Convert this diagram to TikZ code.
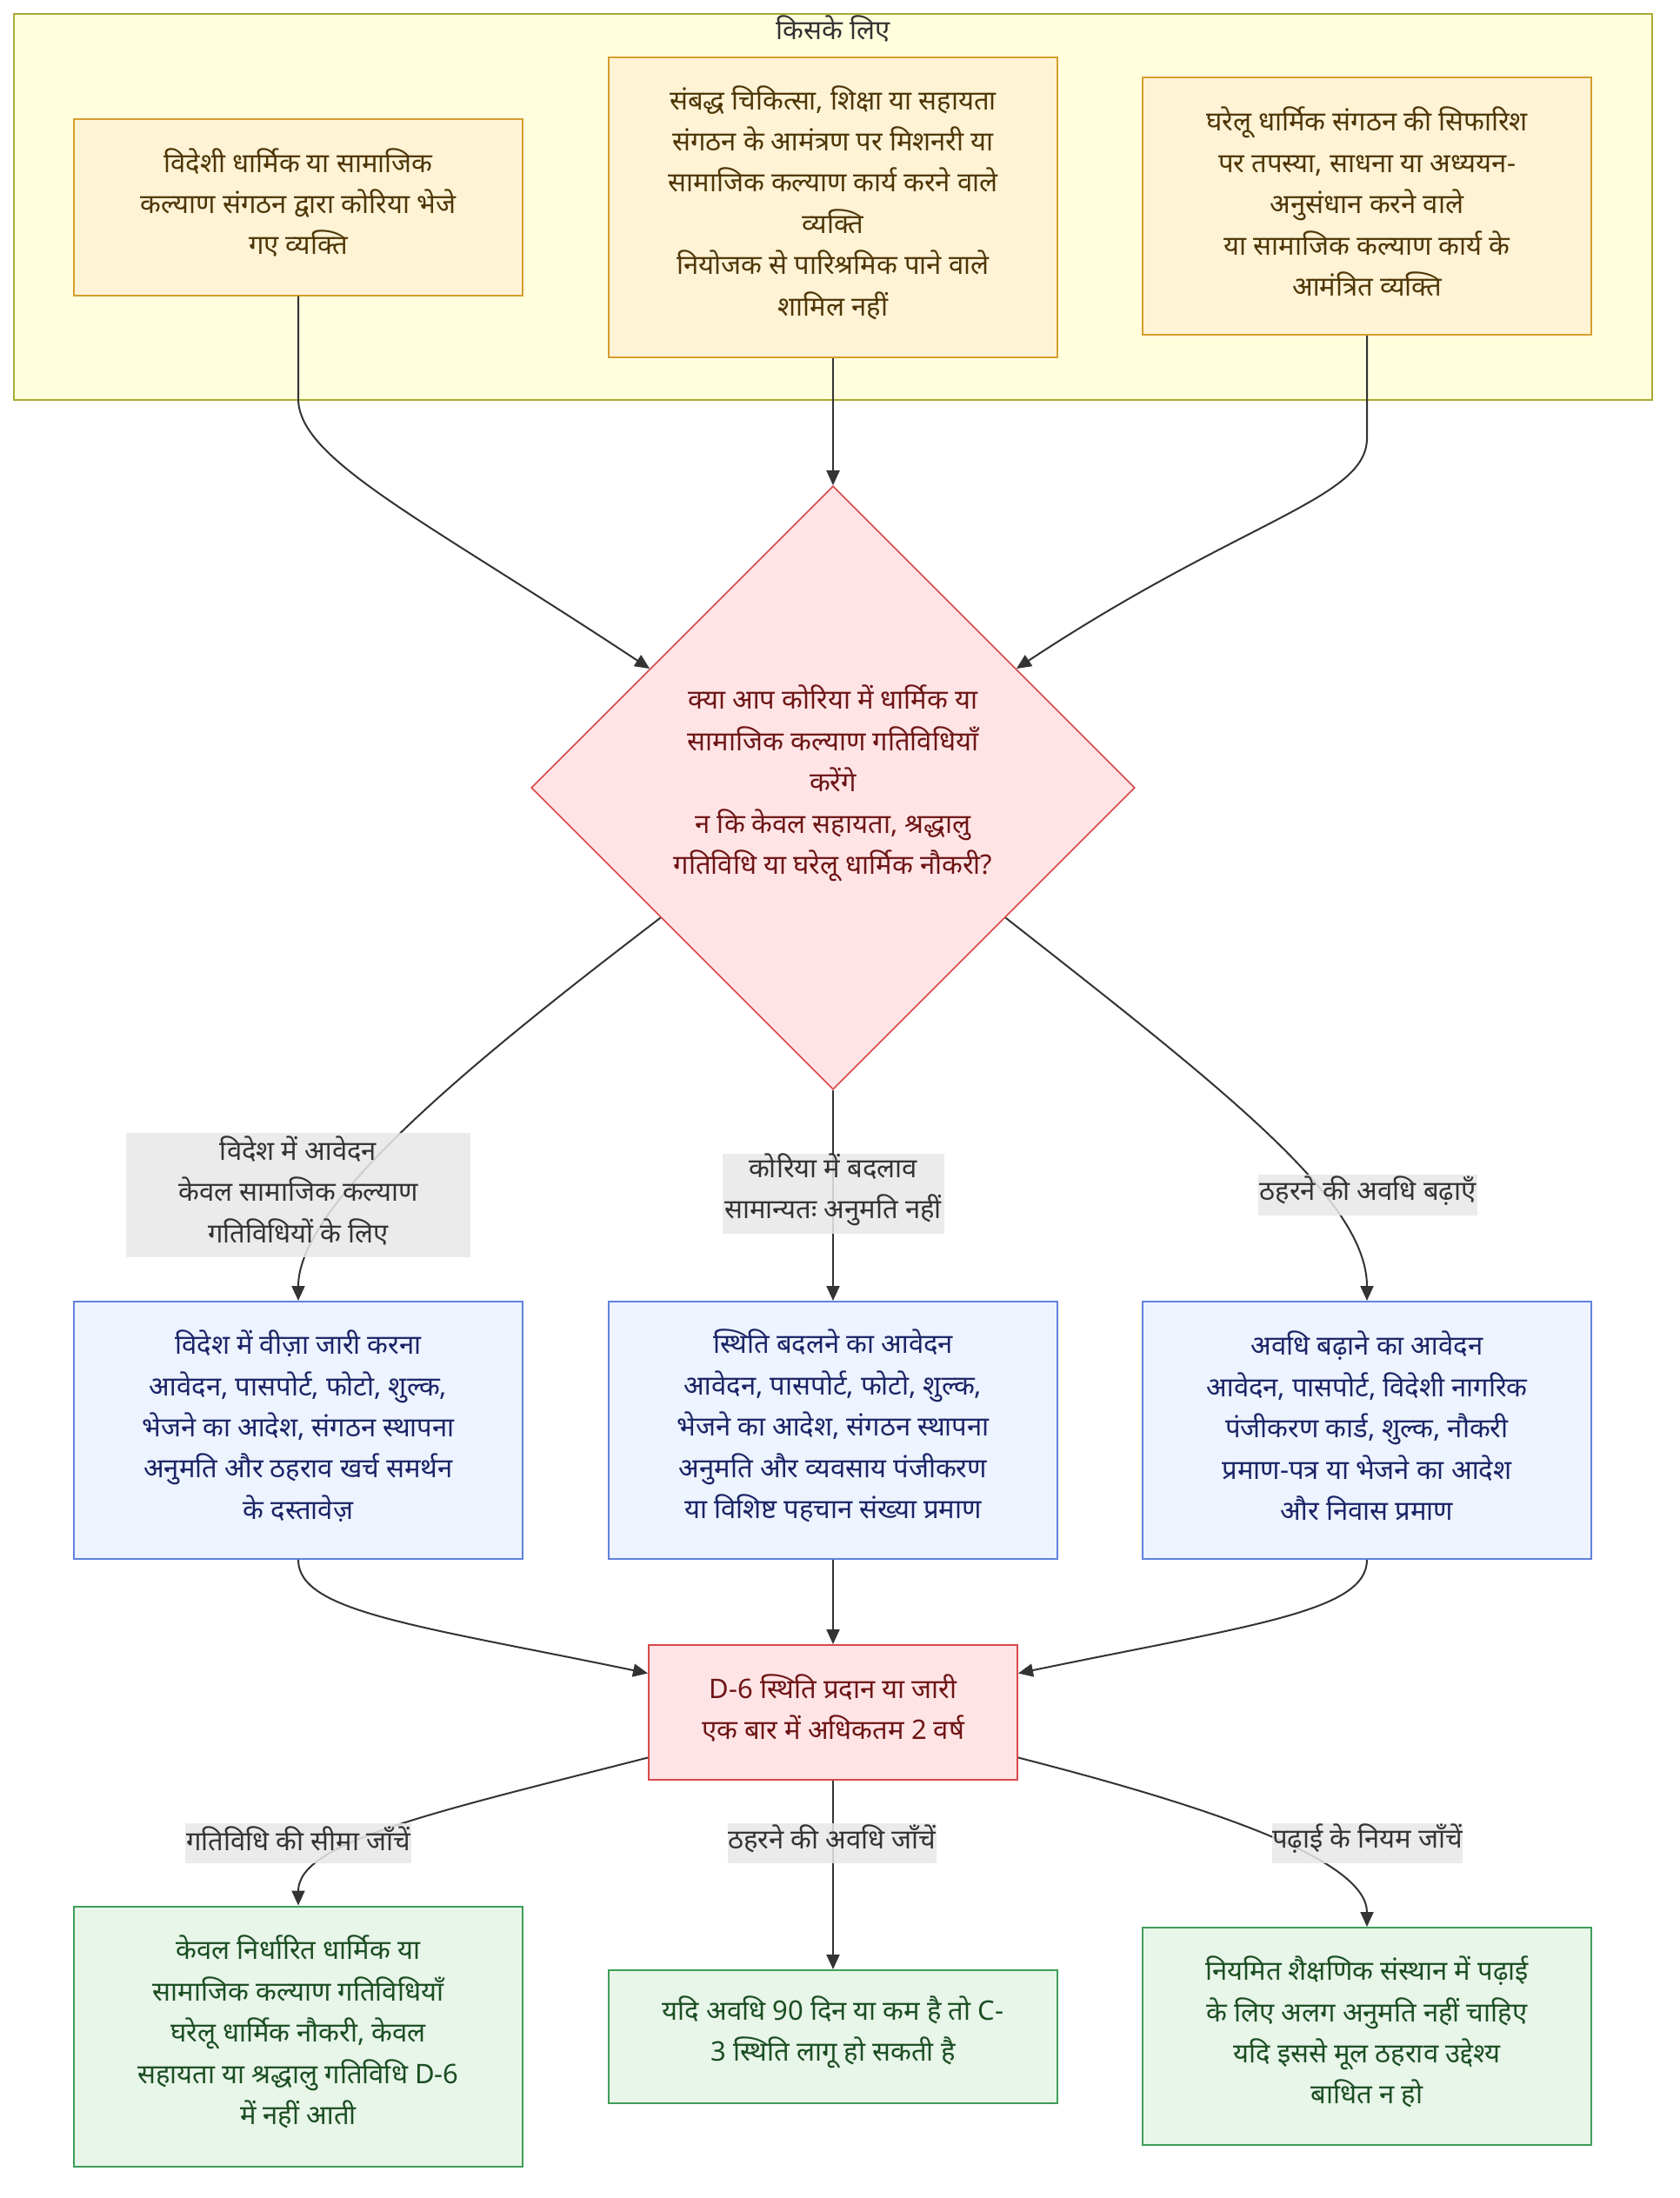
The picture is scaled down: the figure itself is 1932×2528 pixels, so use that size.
\documentclass[tikz,border=0pt]{standalone}
\usepackage{fontspec}
\setmainfont{Noto Sans}[Script=Devanagari]
\usetikzlibrary{shapes.geometric,arrows.meta,calc}
\definecolor{clfill}{HTML}{FFFFDE}
\definecolor{cldraw}{HTML}{AAAA33}
\definecolor{afill}{HTML}{FFF3D6}
\definecolor{adraw}{HTML}{D69E2E}
\definecolor{atext}{HTML}{4E3606}
\definecolor{rfill}{HTML}{FFE4E6}
\definecolor{rdraw}{HTML}{D94848}
\definecolor{rtext}{HTML}{6E1515}
\definecolor{bfill}{HTML}{EDF3FF}
\definecolor{bdraw}{HTML}{5F82DC}
\definecolor{btext}{HTML}{1A2466}
\definecolor{gfill}{HTML}{E8F5E9}
\definecolor{gdraw}{HTML}{3E9E58}
\definecolor{gtext}{HTML}{1B4E22}
\definecolor{lblfill}{HTML}{E8E8E8}
\definecolor{edgec}{HTML}{333333}
\tikzset{
  txt/.style={align=center, inner sep=0pt, font=\fontsize{31}{47.4}\selectfont},
  box/.style={draw, line width=2pt, inner sep=0pt},
  abox/.style={box, fill=afill, draw=adraw},
  bbox/.style={box, fill=bfill, draw=bdraw},
  gbox/.style={box, fill=gfill, draw=gdraw},
  rbox/.style={box, fill=rfill, draw=rdraw},
  atxt/.style={txt, text=atext},
  btxt/.style={txt, text=btext},
  gtxt/.style={txt, text=gtext},
  rtxt/.style={txt, text=rtext},
  ltxt/.style={txt, text=edgec},
  lbl/.style={inner sep=0pt, fill=lblfill, fill opacity=0.85},
  edge/.style={draw=edgec, line width=2pt, -{Triangle[length=17pt,width=15pt]}},
}
\begin{document}
\begin{tikzpicture}[x=1pt,y=1pt]
\useasboundingbox (0,0) rectangle (1932,-2528);
\fill[white] (0,0) rectangle (1932,-2528);
% cluster
\node[draw=cldraw, fill=clfill, line width=2pt, minimum width=1884pt, minimum height=444pt, inner sep=0pt] (cl) at (958,-238) {};
\node[ltxt] (cltitle) at (958,-33) {किसके लिए};
% top boxes
\node[abox, minimum width=516pt, minimum height=203pt] (a1) at (343,-238) {};
\node[atxt] (a1t) at ([yshift=5pt]a1.center) {विदेशी धार्मिक या सामाजिक\\कल्याण संगठन द्वारा कोरिया भेजे\\गए व्यक्ति};
\node[abox, minimum width=516pt, minimum height=345pt] (a2) at (958,-238) {};
\node[atxt] (a2t) at ([yshift=5pt]a2.center) {संबद्ध चिकित्सा, शिक्षा या सहायता\\संगठन के आमंत्रण पर मिशनरी या\\सामाजिक कल्याण कार्य करने वाले\\व्यक्ति\\नियोजक से पारिश्रमिक पाने वाले\\शामिल नहीं};
\node[abox, minimum width=516pt, minimum height=296pt] (a3) at (1572,-237) {};
\node[atxt] (a3t) at ([yshift=5pt]a3.center) {घरेलू धार्मिक संगठन की सिफारिश\\पर तपस्या, साधना या अध्ययन-\\अनुसंधान करने वाले\\या सामाजिक कल्याण कार्य के\\आमंत्रित व्यक्ति};
% decision
\node[rbox, diamond, aspect=1, line width=1.6pt, minimum width=694pt, minimum height=694pt] (dia) at (958,-906) {};
\node[rtxt] (diat) at ([yshift=5pt]dia.center) {क्या आप कोरिया में धार्मिक या\\सामाजिक कल्याण गतिविधियाँ\\करेंगे\\न कि केवल सहायता, श्रद्धालु\\गतिविधि या घरेलू धार्मिक नौकरी?};
% application boxes
\node[bbox, minimum width=516pt, minimum height=296pt] (b1) at (343,-1645) {};
\node[btxt] (b1t) at ([yshift=5pt]b1.center) {विदेश में वीज़ा जारी करना\\आवेदन, पासपोर्ट, फोटो, शुल्क,\\भेजने का आदेश, संगठन स्थापना\\अनुमति और ठहराव खर्च समर्थन\\के दस्तावेज़};
\node[bbox, minimum width=516pt, minimum height=296pt] (b2) at (958,-1645) {};
\node[btxt] (b2t) at ([yshift=5pt]b2.center) {स्थिति बदलने का आवेदन\\आवेदन, पासपोर्ट, फोटो, शुल्क,\\भेजने का आदेश, संगठन स्थापना\\अनुमति और व्यवसाय पंजीकरण\\या विशिष्ट पहचान संख्या प्रमाण};
\node[bbox, minimum width=516pt, minimum height=296pt] (b3) at (1572,-1645) {};
\node[btxt] (b3t) at ([yshift=5pt]b3.center) {अवधि बढ़ाने का आवेदन\\आवेदन, पासपोर्ट, विदेशी नागरिक\\पंजीकरण कार्ड, शुल्क, नौकरी\\प्रमाण-पत्र या भेजने का आदेश\\और निवास प्रमाण};
% grant
\node[rbox, minimum width=424pt, minimum height=155pt] (d6) at (958,-1969.5) {};
\node[rtxt] (d6t) at ([yshift=5pt]d6.center) {D-6 स्थिति प्रदान या जारी\\एक बार में अधिकतम 2 वर्ष};
% checks
\node[gbox, minimum width=516pt, minimum height=299pt] (c1) at (343,-2342) {};
\node[gtxt] (c1t) at ([yshift=5pt]c1.center) {केवल निर्धारित धार्मिक या\\सामाजिक कल्याण गतिविधियाँ\\घरेलू धार्मिक नौकरी, केवल\\सहायता या श्रद्धालु गतिविधि D-6\\में नहीं आती};
\node[gbox, minimum width=516pt, minimum height=153pt] (c2) at (958,-2342.5) {};
\node[gtxt] (c2t) at ([yshift=5pt]c2.center) {यदि अवधि 90 दिन या कम है तो C-\\3 स्थिति लागू हो सकती है};
\node[gbox, minimum width=516pt, minimum height=250pt] (c3) at (1572,-2342) {};
\node[gtxt] (c3t) at ([yshift=5pt]c3.center) {नियमित शैक्षणिक संस्थान में पढ़ाई\\के लिए अलग अनुमति नहीं चाहिए\\यदि इससे मूल ठहराव उद्देश्य\\बाधित न हो};
% edges
\draw[edge] (a1.south) -- ++(0,-118) .. controls +(0,-70) and +(-260,172) .. (dia.147);
\draw[edge] (a2.south) -- (dia.north);
\draw[edge] (a3.south) -- ++(0,-118) .. controls +(0,-70) and +(260,172) .. (dia.33);
\draw[edge] (dia.217) .. controls +(-200,-153) and +(0,115) .. (b1.north);
\draw[edge] (dia.south) -- (b2.north);
\draw[edge] (dia.323) .. controls +(255,-200) and +(0,115) .. (b3.north);
\draw[edge] (b1.south) .. controls +(0,-60) and +(-265,55) .. ([yshift=45pt]d6.west);
\draw[edge] (b2.south) -- (d6.north);
\draw[edge] (b3.south) .. controls +(0,-60) and +(265,55) .. ([yshift=45pt]d6.east);
\draw[edge] ([yshift=-52pt]d6.west) .. controls +(-246,-63) and +(0,73) .. (c1.north);
\draw[edge] (d6.south) -- (c2.north);
\draw[edge] ([yshift=-52pt]d6.east) .. controls +(246,-63) and +(0,73) .. (c3.north);
% edge labels
\node[lbl, minimum width=396pt, minimum height=143pt] (l1) at (343,-1374.5) {};
\node[ltxt] (l1t) at ([yshift=5pt]l1.center) {विदेश में आवेदन\\केवल सामाजिक कल्याण\\गतिविधियों के लिए};
\node[lbl, minimum width=255pt, minimum height=92pt] (l2) at (958,-1373) {};
\node[ltxt] (l2t) at ([yshift=5pt]l2.center) {कोरिया में बदलाव\\सामान्यतः अनुमति नहीं};
\node[lbl, minimum width=252pt, minimum height=47pt] (l3) at (1573,-1374.5) {};
\node[ltxt] (l3t) at ([yshift=5pt]l3.center) {ठहरने की अवधि बढ़ाएँ};
\node[lbl, minimum width=260pt, minimum height=46pt] (l4) at (343,-2120) {};
\node[ltxt] (l4t) at ([yshift=5pt]l4.center) {गतिविधि की सीमा जाँचें};
\node[lbl, minimum width=240pt, minimum height=46pt] (l5) at (957,-2120) {};
\node[ltxt] (l5t) at ([yshift=5pt]l5.center) {ठहरने की अवधि जाँचें};
\node[lbl, minimum width=219pt, minimum height=46pt] (l6) at (1572.5,-2120) {};
\node[ltxt] (l6t) at ([yshift=5pt]l6.center) {पढ़ाई के नियम जाँचें};
\end{tikzpicture}
\end{document}
